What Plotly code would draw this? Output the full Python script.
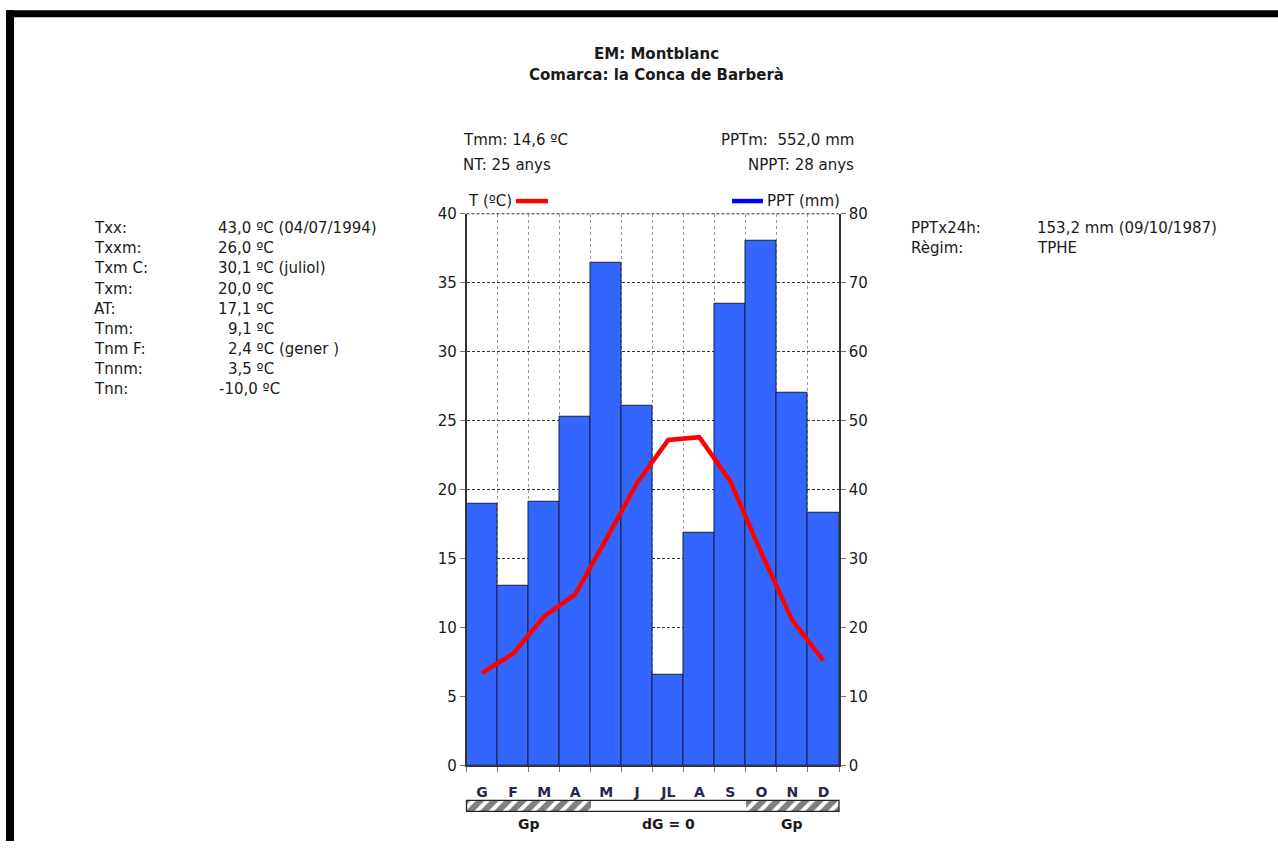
import plotly.graph_objects as go

W, H = 1278, 850

months = ["G", "F", "M", "A", "M", "J", "JL", "A", "S", "O", "N", "D"]
ppt_mm = [38.0, 26.0, 38.2, 50.5, 72.9, 52.2, 13.2, 33.7, 67.0, 76.1, 54.1, 36.6]
temp_c = [6.7, 8.1, 10.8, 12.4, 16.4, 20.5, 23.6, 23.8, 20.6, 15.4, 10.5, 7.6]
regime = ["Gp", "Gp", "Gp", "Gp", "dG", "dG", "dG", "dG", "dG", "Gp", "Gp", "Gp"]

title_lines = ["EM: Montblanc", "Comarca: la Conca de Barberà"]
left_labels = ["Txx:", "Txxm:", "Txm C:", "Txm:", "AT:", "Tnm:", "Tnm F:", "Tnnm:", "Tnn:"]
left_values = ["43,0 ºC (04/07/1994)", "26,0 ºC", "30,1 ºC (juliol)", "20,0 ºC", "17,1 ºC",
               "9,1 ºC", "2,4 ºC (gener )", "3,5 ºC", "-10,0 ºC"]
right_labels = ["PPTx24h:", "Règim:"]
right_values = ["153,2 mm (09/10/1987)", "TPHE"]

FONT = "DejaVu Sans"
TXT = "#1a1a1a"
FS = 15

# page capture maps figure y to screen y as 7.7 + 0.98*y; compensate
Y_OFF, Y_SC = 7.7, 0.98


def px(x):
    return x / W


def py(y):
    return 1 - ((y - Y_OFF) / Y_SC) / H


xi = list(range(len(months)))
bounds = [i - 0.5 for i in range(len(months) + 1)]
xdom = [px(466.5), px(839)]

fig = go.Figure()
fig.add_trace(go.Bar(x=xi, y=ppt_mm, width=1, xaxis="x", yaxis="y",
                     marker=dict(color="#3366FF", line=dict(color="#1c1c3a", width=1)),
                     showlegend=False))
fig.add_trace(go.Scatter(x=xi, y=temp_c, xaxis="x", yaxis="y2", mode="lines",
                         line=dict(color="#FF0000", width=4.5), showlegend=False))
fig.add_trace(go.Bar(x=xi, y=[1] * len(xi), width=1, xaxis="x2", yaxis="y3",
                     marker=dict(color="white", line=dict(width=0),
                                 pattern=dict(shape=["/" if r == "Gp" else "" for r in regime],
                                              fgcolor="#000000", bgcolor="white",
                                              size=10, solidity=0.6)),
                     showlegend=False))

tick_font = dict(family=FONT, size=FS, color=TXT)

fig.update_layout(
    width=W, height=H, margin=dict(l=0, r=0, t=0, b=0),
    paper_bgcolor="white", plot_bgcolor="white", bargap=0,
    xaxis=dict(domain=xdom, range=[-0.5, 11.5], anchor="y",
               tickmode="array", tickvals=xi, ticktext=[f"<b>{m}</b>" for m in months], ticks="",
               tickfont=dict(family=FONT, size=14, color="#26264e"), ticklabelstandoff=13,
               showgrid=False, zeroline=False,
               showline=True, linecolor="#333", linewidth=1.5,
               minor=dict(tickmode="array", tickvals=bounds, ticks="outside",
                          ticklen=5, tickcolor="#777", showgrid=True,
                          gridcolor="#999", griddash="dot", gridwidth=1)),
    yaxis=dict(domain=[py(765), py(212.7)], range=[0, 80], side="right", anchor="x",
               tickmode="linear", tick0=0, dtick=10, ticks="outside", ticklen=5,
               tickcolor="#777", tickfont=tick_font,
               showgrid=True, gridcolor="#333", griddash="3px,2px", gridwidth=1,
               zeroline=False, showline=True, linecolor="#333", linewidth=1.5),
    yaxis2=dict(range=[0, 40], overlaying="y", side="left", anchor="x",
                tickmode="linear", tick0=0, dtick=5, ticks="outside", ticklen=5,
                tickcolor="#777", tickfont=tick_font, showgrid=False, zeroline=False,
                showline=True, linecolor="#333", linewidth=1.5),
    xaxis2=dict(domain=xdom, range=[-0.5, 11.5], anchor="y3", visible=False),
    yaxis3=dict(domain=[py(811), py(800)], range=[0, 1], visible=False),
)

shapes = []
# page frame
shapes.append(dict(type="rect", xref="paper", yref="paper", x0=px(6), x1=1, y0=py(16), y1=py(9),
                   fillcolor="black", line=dict(width=0)))
shapes.append(dict(type="rect", xref="paper", yref="paper", x0=px(6), x1=px(14), y0=0, y1=py(9),
                   fillcolor="black", line=dict(width=0)))
# top dashed line
shapes.append(dict(type="line", xref="x domain", yref="y domain", x0=0, x1=1, y0=1, y1=1,
                   line=dict(color="#333", width=1, dash="3px,2px")))
# band outline
shapes.append(dict(type="rect", xref="x2 domain", yref="y3 domain", x0=0, x1=1, y0=0, y1=1,
                   line=dict(color="#222", width=1.3)))
# legend swatches
shapes.append(dict(type="line", xref="paper", yref="paper", x0=px(516), x1=px(548), y0=py(200), y1=py(200),
                   line=dict(color="#FF0000", width=4.5)))
shapes.append(dict(type="line", xref="paper", yref="paper", x0=px(732), x1=px(763), y0=py(200), y1=py(200),
                   line=dict(color="#0000FF", width=4.5)))
fig.update_layout(shapes=shapes)

ann = []


def text(x, y, s, anchor="left", size=FS, bold=False):
    ann.append(dict(x=px(x), y=py(y), xref="paper", yref="paper", text=f"<b>{s}</b>" if bold else s,
                    showarrow=False, xanchor=anchor, yanchor="middle",
                    font=dict(family=FONT, size=size, color=TXT)))


text(656, 53, title_lines[0], "center", FS, True)
text(656, 74, title_lines[1], "center", FS, True)
text(461, 139, "Tmm: 14,6 ºC")
text(461, 164, "NT: 25 anys")
text(856, 139, "PPTm:  552,0 mm", "right")
text(856, 164, "NPPT: 28 anys", "right")
text(466, 200, "T (ºC)", "left", FS)
text(765, 200, "PPT (mm)", "left", FS)

value_x = [216, 216, 216, 216, 216, 226, 226, 226, 217]
for i, (lab, val) in enumerate(zip(left_labels, left_values)):
    yy = 227 + i * 20.2
    text(92, yy, lab, "left", FS)
    text(value_x[i], yy, val, "left", FS)
for i, (lab, val) in enumerate(zip(right_labels, right_values)):
    yy = 227 + i * 20.2
    text(909, yy, lab, "left", FS)
    text(1035, yy, val, "left", FS)

# regime labels under band
groups = []
start = 0
for i in range(1, len(regime) + 1):
    if i == len(regime) or regime[i] != regime[start]:
        groups.append((regime[start], start, i - 1))
        start = i
for name, a, b in groups:
    lab = "Gp" if name == "Gp" else "dG = 0"
    ann.append(dict(x=(xi[a] + xi[b]) / 2, y=py(824), xref="x", yref="paper", text=f"<b>{lab}</b>",
                    showarrow=False, xanchor="center", yanchor="middle",
                    font=dict(family=FONT, size=14, color=TXT)))

fig.update_layout(annotations=ann)
fig.write_html("out.html", config={"displayModeBar": False},
               post_script="document.body.style.margin='0';document.body.style.overflow='hidden';")
